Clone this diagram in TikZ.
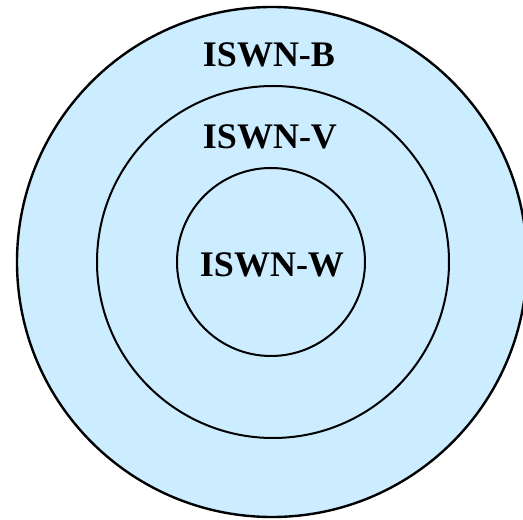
\documentclass[tikz,border=0pt]{standalone}
\usepackage{fontspec}
\setmainfont{Liberation Serif}
\definecolor{ringfill}{RGB}{204,236,255}
\begin{document}
\begin{tikzpicture}[x=1pt,y=1pt,
  ring/.style={circle,draw=black,line width=2pt,inner sep=0pt},
  lbl/.style={font=\bfseries\fontsize{36}{40}\selectfont,anchor=base,inner sep=0pt}]
\useasboundingbox (0,0) rectangle (523,520);
\node[ring,fill=ringfill,minimum size=510pt,line width=2.4pt] (outer) at (272,258) {};
\node[ring,minimum size=352pt] (middle) at (273,258) {};
\node[ring,minimum size=188pt] (inner) at (271,258) {};
\node[lbl] (b) at (269,453) {ISWN-B};
\node[lbl] (v) at (270,371) {ISWN-V};
\node[lbl] (w) at (272,243) {ISWN-W};
\end{tikzpicture}
\end{document}
